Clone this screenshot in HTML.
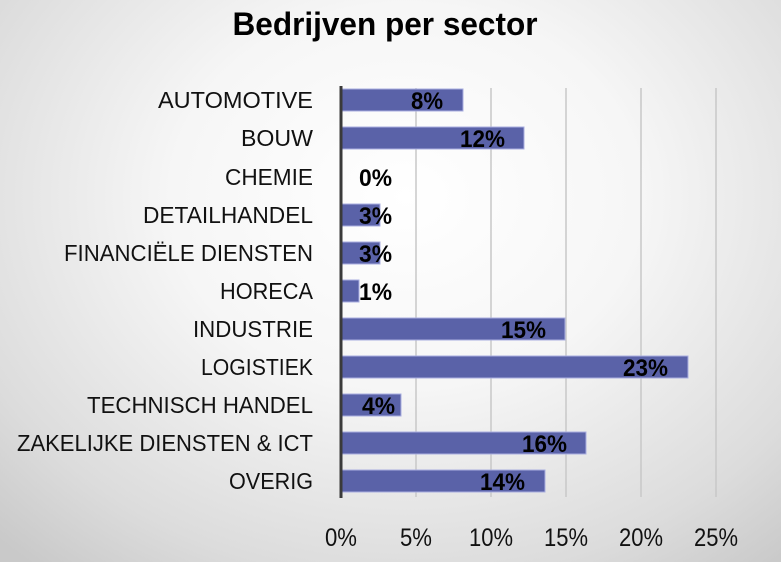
<!DOCTYPE html>
<html><head><meta charset="utf-8"><style>
html,body{margin:0;padding:0;}
body{width:781px;height:562px;overflow:hidden;background:radial-gradient(ellipse 75% 85% at 52% 35%,#ffffff 0%,#f6f6f6 40%,#dcdcdc 80%,#c9c9c9 100%);}
svg{display:block;font-family:"Liberation Sans",sans-serif;}
</style></head><body>
<svg width="781" height="562" viewBox="0 0 781 562">
<text x="385" y="35" text-anchor="middle" font-weight="bold" font-size="32" textLength="305" lengthAdjust="spacingAndGlyphs" fill="#000">Bedrijven per sector</text>
<g stroke="#c8c8c8" stroke-width="1.5">
<line x1="416" y1="88" x2="416" y2="497"/><line x1="491" y1="88" x2="491" y2="497"/><line x1="566" y1="88" x2="566" y2="497"/><line x1="641" y1="88" x2="641" y2="497"/><line x1="716" y1="88" x2="716" y2="497"/>
</g>
<g fill="#5a62a8" stroke="#a9aee0" stroke-width="1">
<rect x="341" y="89" width="122" height="22"/>
<rect x="341" y="127" width="183" height="22"/>
<rect x="341" y="204" width="39" height="22"/>
<rect x="341" y="242" width="39" height="22"/>
<rect x="341" y="280" width="18" height="22"/>
<rect x="341" y="318" width="224" height="22"/>
<rect x="341" y="356" width="347" height="22"/>
<rect x="341" y="394" width="60" height="22"/>
<rect x="341" y="432" width="245" height="22"/>
<rect x="341" y="470" width="204" height="22"/>
</g>
<line x1="341" y1="86" x2="341" y2="498" stroke="#3a3a3a" stroke-width="3"/>
<g font-size="23" fill="#111" text-anchor="end">
<text x="313" y="108" textLength="155" lengthAdjust="spacingAndGlyphs">AUTOMOTIVE</text>
<text x="313" y="146" textLength="72" lengthAdjust="spacingAndGlyphs">BOUW</text>
<text x="313" y="185" textLength="88" lengthAdjust="spacingAndGlyphs">CHEMIE</text>
<text x="313" y="223" textLength="170" lengthAdjust="spacingAndGlyphs">DETAILHANDEL</text>
<text x="313" y="261" textLength="249" lengthAdjust="spacingAndGlyphs">FINANCIËLE DIENSTEN</text>
<text x="313" y="299" textLength="93" lengthAdjust="spacingAndGlyphs">HORECA</text>
<text x="313" y="337" textLength="120" lengthAdjust="spacingAndGlyphs">INDUSTRIE</text>
<text x="313" y="375" textLength="112" lengthAdjust="spacingAndGlyphs">LOGISTIEK</text>
<text x="313" y="413" textLength="226" lengthAdjust="spacingAndGlyphs">TECHNISCH HANDEL</text>
<text x="313" y="451" textLength="296" lengthAdjust="spacingAndGlyphs">ZAKELIJKE DIENSTEN &amp; ICT</text>
<text x="313" y="489" textLength="84" lengthAdjust="spacingAndGlyphs">OVERIG</text>
</g>
<g font-size="24" font-weight="bold" fill="#000" text-anchor="end">
<text x="443" y="109" textLength="32" lengthAdjust="spacingAndGlyphs">8%</text>
<text x="505" y="147" textLength="45" lengthAdjust="spacingAndGlyphs">12%</text>
<text x="392" y="186" textLength="33" lengthAdjust="spacingAndGlyphs">0%</text>
<text x="392" y="224" textLength="33" lengthAdjust="spacingAndGlyphs">3%</text>
<text x="392" y="262" textLength="33" lengthAdjust="spacingAndGlyphs">3%</text>
<text x="392" y="300" textLength="33" lengthAdjust="spacingAndGlyphs">1%</text>
<text x="546" y="338" textLength="45" lengthAdjust="spacingAndGlyphs">15%</text>
<text x="668" y="376" textLength="45" lengthAdjust="spacingAndGlyphs">23%</text>
<text x="395" y="414" textLength="33" lengthAdjust="spacingAndGlyphs">4%</text>
<text x="567" y="452" textLength="45" lengthAdjust="spacingAndGlyphs">16%</text>
<text x="525" y="490" textLength="45" lengthAdjust="spacingAndGlyphs">14%</text>
</g>
<g font-size="25" fill="#111" text-anchor="middle">
<text x="341" y="546" textLength="32" lengthAdjust="spacingAndGlyphs">0%</text>
<text x="416" y="546" textLength="32" lengthAdjust="spacingAndGlyphs">5%</text>
<text x="491" y="546" textLength="44" lengthAdjust="spacingAndGlyphs">10%</text>
<text x="566" y="546" textLength="44" lengthAdjust="spacingAndGlyphs">15%</text>
<text x="641" y="546" textLength="44" lengthAdjust="spacingAndGlyphs">20%</text>
<text x="716" y="546" textLength="44" lengthAdjust="spacingAndGlyphs">25%</text>
</g>
</svg>
</body></html>
